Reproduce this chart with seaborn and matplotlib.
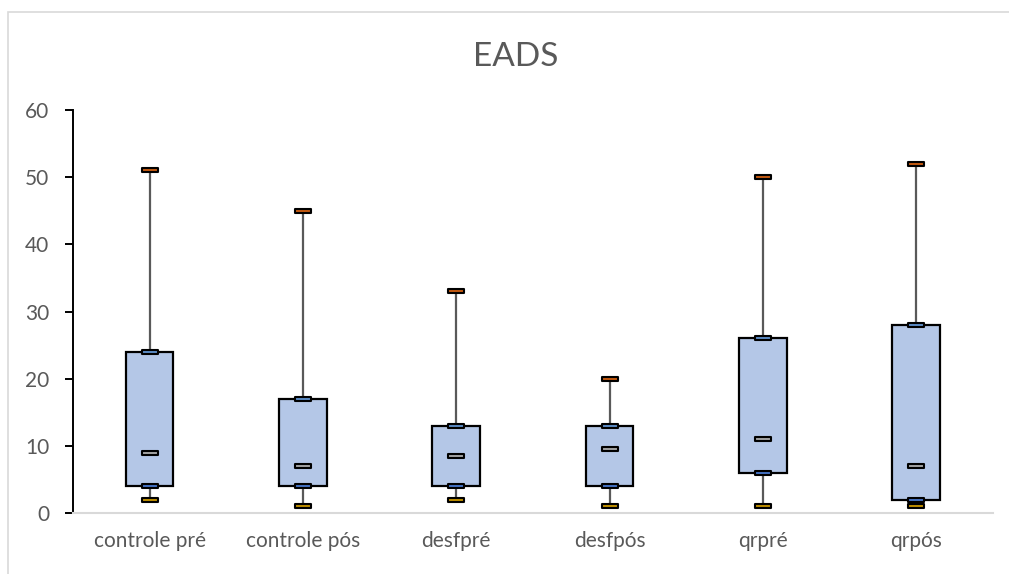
import numpy as np
import matplotlib
matplotlib.use("Agg")
import matplotlib.pyplot as plt
from matplotlib.path import Path
from matplotlib.patches import Rectangle
import seaborn as sns

# EADS scores per group: five-number summaries
categories = ["controle pré", "controle pós", "desfpré", "desfpós", "qrpré", "qrpós"]
mins = [2, 1, 2, 1, 1, 1]
q1 = [4, 4, 4, 4, 6, 2]
medians = [9, 7, 8.5, 9.5, 11, 7]
q3 = [24, 17, 13, 13, 26, 28]
maxs = [51, 45, 33, 20, 50, 52]
y_ticks = [0, 10, 20, 30, 40, 50, 60]

sns.set_style("white")
plt.rcParams["font.family"] = ["Lato", "DejaVu Sans"]

text_color = "#595959"
box_fill = "#B4C7E7"

fig = plt.figure(figsize=(10.09, 5.74), dpi=100)
ax = fig.add_axes([0.0723, 0.1063, 0.9117, 0.702])

pos = np.arange(len(categories))

# whiskers from minimum to maximum
ax.vlines(pos, mins, maxs, color="#595959", linewidth=1.6, zorder=1)

# boxes from first to third quartile
heights = np.array(q3) - np.array(q1)
sns.barplot(x=categories, y=heights, bottom=q1, width=0.31, color=box_fill,
            edgecolor="black", linewidth=1.6, saturation=1, ax=ax, zorder=2)

# dash markers at each summary value: black outline with a thin coloured core
dash = Path([(-1, -0.24), (1, -0.24), (1, 0.24), (-1, 0.24), (-1, -0.24)],
            [Path.MOVETO, Path.LINETO, Path.LINETO, Path.LINETO, Path.CLOSEPOLY])
marker_series = [
    (mins, "#C09000"),
    (q1, "#4472C4"),
    (medians, "#A5A5A5"),
    (q3, "#5B8BC5"),
    (maxs, "#C55A11"),
]
for values, col in marker_series:
    sns.stripplot(x=categories, y=values, jitter=False, marker=dash, s=11,
                  color=col, edgecolor="black", linewidth=1.5, ax=ax, zorder=4)

ax.set_xlim(-0.5, len(categories) - 0.5)
ax.set_ylim(0, 60)
ax.set_yticks(y_ticks)
ax.set_yticklabels([str(t) for t in y_ticks])

for side in ["top", "right"]:
    ax.spines[side].set_visible(False)
ax.spines["left"].set_color("black")
ax.spines["left"].set_linewidth(1.4)
ax.spines["bottom"].set_color("#D9D9D9")
ax.spines["bottom"].set_linewidth(1.5)

ax.tick_params(axis="y", direction="out", length=6, width=1.4, color="black",
               pad=11, labelsize=15, labelcolor=text_color, left=True)
ax.tick_params(axis="x", length=0, pad=13, labelsize=15, labelcolor=text_color)
ax.set_xlabel("")
ax.set_ylabel("")

fig.text(0.511, 0.9, "EADS", ha="center", va="center", fontsize=24, color=text_color)

# chart area border
fig.patches.append(Rectangle((8 / 1009, -0.5), 1.5, 1.5 - 12 / 574,
                             transform=fig.transFigure, fill=False,
                             edgecolor="#D9D9D9", linewidth=1.2))

fig.savefig("out.png", dpi=100, facecolor="white")
